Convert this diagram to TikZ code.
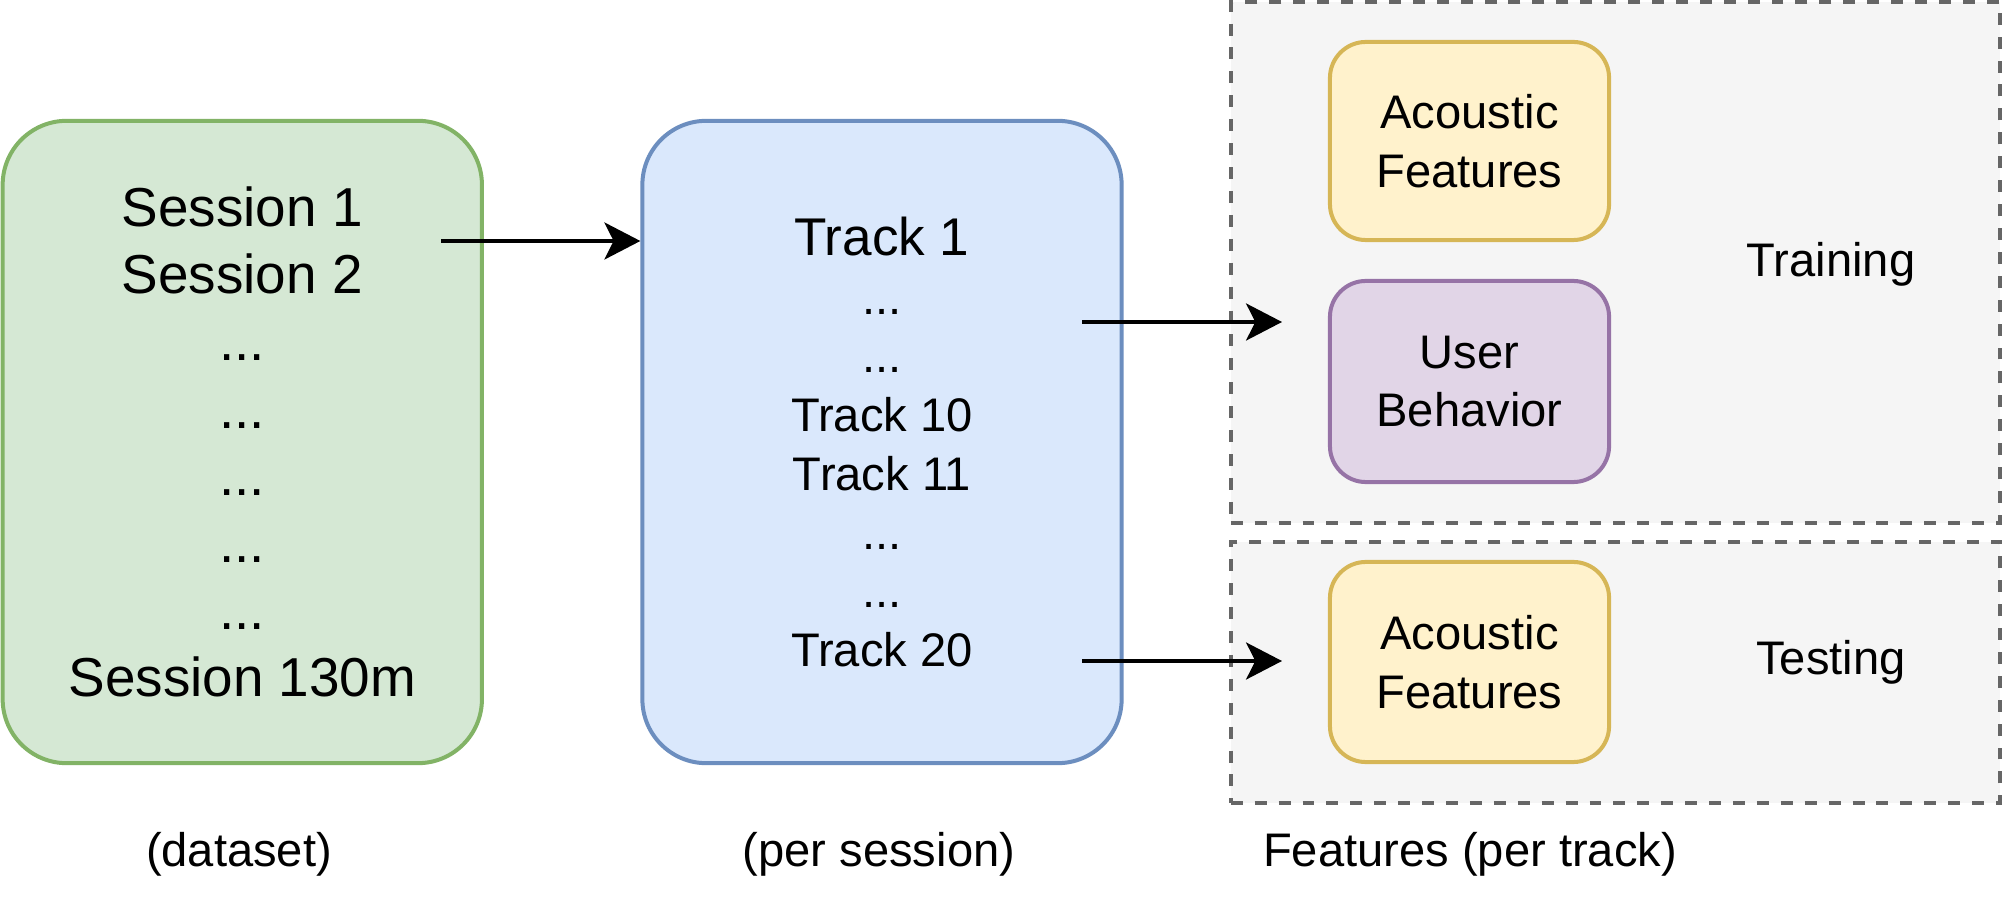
\documentclass[tikz,border=0pt]{standalone}
\usepackage{fontspec}
\setmainfont{Liberation Sans}
\usetikzlibrary{arrows.meta}
\definecolor{gfill}{HTML}{D5E8D4}
\definecolor{gline}{HTML}{82B366}
\definecolor{bfill}{HTML}{DAE8FC}
\definecolor{bline}{HTML}{6C8EBF}
\definecolor{yfill}{HTML}{FFF2CC}
\definecolor{yline}{HTML}{D6B656}
\definecolor{pfill}{HTML}{E1D5E7}
\definecolor{pline}{HTML}{9673A6}
\definecolor{grfill}{HTML}{F5F5F5}
\definecolor{grline}{HTML}{666666}
\begin{document}
\begin{tikzpicture}[x=0.01cm,y=-0.01cm,
  bigbox/.style={draw, line width=1.14pt, rounded corners=0.64cm, align=center, inner sep=0pt,
     minimum width=4.79cm, minimum height=6.42cm},
  featbox/.style={draw, line width=1.14pt, rounded corners=0.36cm, align=center, inner sep=0pt,
     minimum width=2.79cm, minimum height=2.0cm, font=\fontsize{13.4}{16.7}\selectfont},
  groupbox/.style={draw=grline, fill=grfill, dash pattern=on 3.4pt off 3.4pt, line width=1.14pt,
     inner sep=0pt, minimum width=7.69cm},
  lbl/.style={font=\fontsize{13.4}{16}\selectfont, inner sep=0pt},
  arr/.style={-{Stealth[length=10.2pt,width=10.5pt,inset=2.6pt]}, line width=1.14pt}
]
\useasboundingbox (0,0) rectangle (2004,916);

% groups
\node[groupbox, minimum height=5.2cm] (train) at (1615.5,262.5) {};
\node[groupbox, minimum height=2.61cm] (test) at (1615.5,672.5) {};

% main boxes
\node[bigbox, fill=gfill, draw=gline, font=\fontsize{15.6}{19.1}\selectfont] (sessions) at (242.3,442)
  {Session 1\\Session 2\\...\\...\\...\\...\\...\\Session 130m};
\node[bigbox, fill=bfill, draw=bline, font=\fontsize{13.4}{16.7}\selectfont] (tracks) at (882,442)
  {{\fontsize{15.1}{16.7}\selectfont Track 1}\\...\\...\\Track 10\\Track 11\\...\\...\\Track 20};

% feature boxes
\node[featbox, fill=yfill, draw=yline, minimum height=1.98cm] (ac1) at (1469.5,141) {Acoustic\\Features};
\node[featbox, fill=pfill, draw=pline, minimum height=2.01cm] (ub) at (1469.5,381.5) {User\\Behavior};
\node[featbox, fill=yfill, draw=yline] (ac2) at (1469.5,662) {Acoustic\\Features};

% labels
\node[lbl] (trainlbl) at (1831,264) {Training};
\node[lbl] (testlbl) at (1831,662) {Testing};
\node[lbl] (dslbl) at (239,854) {(dataset)};
\node[lbl] (pslbl) at (879,854) {(per session)};
\node[lbl] (ftlbl) at (1470,854) {Features (per track)};

% connectors
\coordinate (a1s) at (441,241);
\draw[arr] (a1s) -- (a1s -| tracks.west);
\coordinate (a2s) at (1082,322);
\coordinate (a2e) at (1282,322);
\draw[arr] (a2s) -- (a2e);
\coordinate (a3s) at (1082,661);
\coordinate (a3e) at (1282,661);
\draw[arr] (a3s) -- (a3e);
\end{tikzpicture}
\end{document}
